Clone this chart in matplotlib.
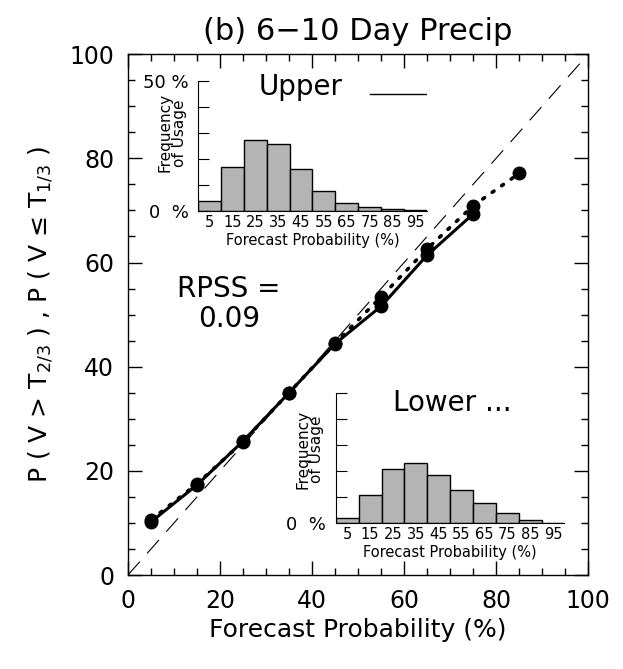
import numpy as np
import matplotlib
matplotlib.use('Agg')
from matplotlib import pyplot as plt
from matplotlib.ticker import MultipleLocator

plt.rcParams['font.family'] = ['DejaVu Sans']
plt.rcParams['mathtext.fontset'] = 'dejavusans'

# reliability curves
prob = [5, 15, 25, 35, 45, 55, 65, 75]
upper_obs = [10.2, 17.3, 25.7, 35.0, 44.4, 51.6, 61.4, 69.3]
prob_low = [5, 15, 25, 35, 45, 55, 65, 75, 85]
lower_obs = [10.6, 17.5, 25.6, 35.0, 44.5, 53.4, 62.6, 70.9, 77.1]

# frequency of usage histograms (%)
bins = [5, 15, 25, 35, 45, 55, 65, 75, 85, 95]
upper_freq = [3.7, 16.7, 27.3, 25.6, 16.0, 7.6, 3.1, 1.4, 0.5, 0.1]
lower_freq = [1.9, 10.9, 20.9, 23.1, 18.6, 12.8, 7.9, 3.8, 1.2, 0.1]

fig = plt.figure(figsize=(6.23, 6.69), dpi=100)
ax = fig.add_axes([0.2055, 0.1405, 0.7385, 0.7785])

ax.plot([0, 100], [0, 100], color='black', lw=0.8, dashes=(16, 10))
ax.plot(prob, upper_obs, color='black', lw=2.2, marker='o', ms=9)
ax.plot(prob_low, lower_obs, color='black', lw=2.6, ls=(0, (0.6, 2.6)),
        dash_capstyle='round', marker='o', ms=9)

ax.set_xlim(0, 100)
ax.set_ylim(0, 100)
ax.xaxis.set_major_locator(MultipleLocator(20))
ax.yaxis.set_major_locator(MultipleLocator(20))
ax.xaxis.set_minor_locator(MultipleLocator(5))
ax.yaxis.set_minor_locator(MultipleLocator(5))
ax.tick_params(which='both', direction='in', top=True, right=True, width=1)
ax.tick_params(which='major', length=10, labelsize=17, pad=10)
ax.tick_params(which='minor', length=5)
for s in ax.spines.values():
    s.set_linewidth(1)

ax.set_title('(b) 6\u221210 Day Precip', fontsize=22, pad=10)
ax.set_xlabel('Forecast Probability (%)', fontsize=18, labelpad=4)
ax.set_ylabel('P ( V > T$_{2/3}$ ) , P ( V \u2264 T$_{1/3}$ )', fontsize=18, labelpad=10)

ax.text(22, 52, 'RPSS =\n0.09', fontsize=20, ha='center', va='center', linespacing=1.1)


def inset(rect, freq, show_top, label_y):
    a = fig.add_axes(rect)
    a.bar(bins, freq, width=10, color='#b4b4b4', edgecolor='black', lw=1)
    a.set_xlim(0, 100)
    a.set_ylim(0, 50)
    a.spines['top'].set_visible(False)
    a.spines['right'].set_visible(False)
    a.patch.set_alpha(0)
    a.set_yticks([0, 10, 20, 30, 40, 50])
    a.set_yticklabels(['0  %', '', '', '', '', '50 %' if show_top else ''])
    a.tick_params(axis='y', direction='in', length=8, labelsize=13, pad=7)
    a.set_xticks(bins)
    a.tick_params(axis='x', length=0, labelsize=10.5, pad=3)
    a.set_xlabel('Forecast Probability (%)', fontsize=10.5, labelpad=2)
    a.set_ylabel('Frequency\nof Usage', fontsize=11, linespacing=0.9)
    a.yaxis.set_label_coords(-0.05, label_y)
    return a


up = inset([0.318, 0.685, 0.367, 0.194], upper_freq, True, 0.6)
up.text(0.45, 0.955, 'Upper', transform=up.transAxes, fontsize=20, ha='center', va='center')
up.plot([0.75, 1.0], [0.90, 0.90], transform=up.transAxes, color='black', lw=1)

lo = inset([0.539, 0.218, 0.367, 0.194], lower_freq, False, 0.57)
lo.text(0.51, 0.925, 'Lower ...', transform=lo.transAxes, fontsize=20, ha='center', va='center')

fig.savefig('out.png', dpi=100)
